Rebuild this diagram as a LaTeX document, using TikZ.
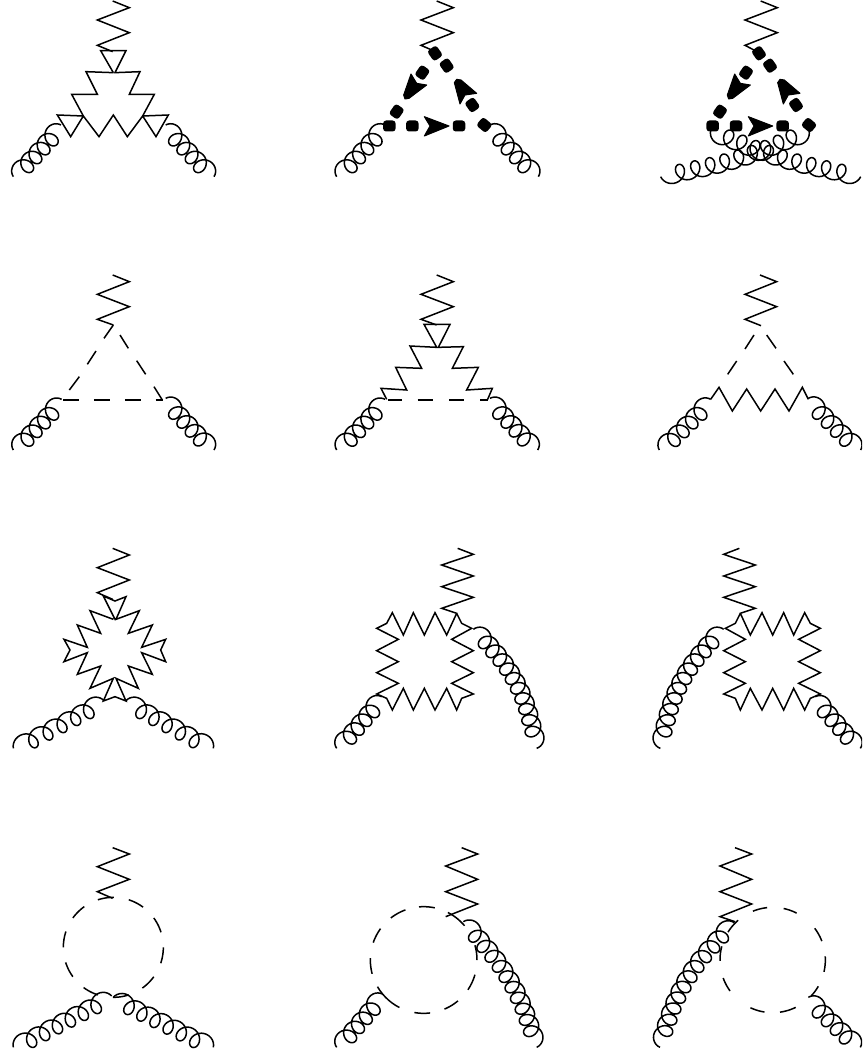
\documentclass[tikz,border=0pt]{standalone}
\tikzset{
  panel/.style 2 args={shift={(#1,#2)},scale=0.33333},
  boson/.style={line width=1.5pt,line join=miter,miter limit=6},
  dashseg/.style={line width=1.5pt,line cap=butt},
  gluonline/.style={line width=1.5pt,line join=round},
  blob/.style={fill=black,inner sep=0pt,minimum width=12.5pt,minimum height=11pt,rounded corners=3pt},
  fermarrow/.style={fill=black,draw=black,line width=1pt,line join=round}
}
\def\gA{26}\def\gB{24}\def\gC{5}
\newcount\gi
\newcount\gn
% P0x,P0y,Cx,Cy,P1x,P1y,N,side
\newcommand{\gluon}[8]{%
  \gn=\fpeval{round(24*(#7))}\relax
  \gi=0
  \edef\gp{(#1,#2)}%
  \loop
    \advance\gi by 1
    \edef\gs{\fpeval{\the\gi/\the\gn}}%
    \edef\gu{\fpeval{1-\gs}}%
    \edef\gtx{\fpeval{\gu*((#3)-(#1))+\gs*((#5)-(#3))}}%
    \edef\gty{\fpeval{\gu*((#4)-(#2))+\gs*((#6)-(#4))}}%
    \edef\gtl{\fpeval{sqrt(\gtx*\gtx+\gty*\gty)}}%
    \edef\gtx{\fpeval{\gtx/\gtl}}%
    \edef\gty{\fpeval{\gty/\gtl}}%
    \edef\gth{\fpeval{360*(#7)*\gs}}%
    \edef\gal{\fpeval{\gB*(1-cosd(\gth)-2*\gs)}}%
    \edef\gnn{\fpeval{(\gC*min(1,8*\gs*\gu)-\gA*sind(\gth))*(#8)}}%
    \edef\gx{\fpeval{round(\gu*\gu*(#1)+2*\gs*\gu*(#3)+\gs*\gs*(#5)+\gtx*\gal-\gty*\gnn,2)}}%
    \edef\gy{\fpeval{round(\gu*\gu*(#2)+2*\gs*\gu*(#4)+\gs*\gs*(#6)+\gty*\gal+\gtx*\gnn,2)}}%
    \edef\gp{\gp--(\gx,\gy)}%
  \ifnum\gi<\gn\repeat
  \edef\gcmd{\noexpand\draw[gluonline] \gp;}\gcmd
}
% straight gluon
\newcommand{\sgluon}[6]{\gluon{#1}{#2}{(#1+#3)/2}{(#2+#4)/2}{#3}{#4}{#5}{#6}}
% dashed arc: cx,cy,r,from,to
\newcommand{\darc}[5]{\draw[dashseg] plot[variable=\t,domain=#4:#5,samples=8,smooth] ({#1+#3*cos(\t)},{#2+#3*sin(\t)});}
\newcommand{\boxpanel}{%
  \draw[boson] (398,25)--(445,43)--(350,75)--(445,108)--(350,140)--(445,172)--(350,205)--(395,220)
    --(365,285)--(330,218)--(298,285)--(265,218)--(235,285)--(202,218)--(185,250)--(155,265)
    --(220,298)--(155,332)--(220,365)--(155,398)--(220,430)--(155,462)--(185,475)--(202,510)
    --(235,445)--(265,510)--(298,445)--(330,510)--(365,445)--(395,510)--(410,475)--(445,462)
    --(380,430)--(445,398)--(380,365)--(445,332)--(380,298)--(440,265)--(410,250)--(395,220);
  \sgluon{170}{470}{35}{625}{4.5}{-1}
  \gluon{445}{268}{616}{404}{635}{625}{10.5}{1}
}
\begin{document}
\begin{tikzpicture}[x=1pt,y=-1pt]
\useasboundingbox (0,0) rectangle (862,1057);
\clip (0,0) rectangle (862,1057);
% ---- row 1, panel 1
\begin{scope}[panel={0}{0}]
\draw[boson] (338,3)--(388,23)--(292,60)--(388,98)--(292,136)--(338,155);
\draw[boson] (340,218)--(302,152)--(378,152)--(345,218)--(420,215)--(388,283)--(463,283)--(428,348)--(505,345)--(468,410)--(428,348)--(382,410)--(340,345)--(297,410)--(250,348)--(212,410)--(172,345)--(250,348)--(215,283)--(292,283)--(258,215)--(340,218);
\sgluon{183}{375}{40}{530}{4.5}{-1}
\sgluon{497}{375}{642}{530}{4.5}{1}
\end{scope}
% ---- row 1, panel 2
\begin{scope}[panel={325}{0}]
\draw[boson] (335,3)--(385,23)--(288,60)--(385,98)--(288,136)--(332,155);
\sgluon{180}{375}{35}{530}{4.5}{-1}
\sgluon{495}{375}{640}{530}{4.5}{1}
\foreach \xa/\ya/\ang [count=\i] in {330/160/-55,365/197/-55,292/218/55,215/335/55,442/315/-55,478/375/-40,193/378/0,262/378/0,402/378/0}
  {\node[blob,rotate=\ang] (pa\i) at (\xa,\ya) {};}
\fill[fermarrow] (372,378)--(298,350)--(315,378)--(298,408)--cycle;
\fill[fermarrow] (258,222)--(275,250)--(305,255)--(252,295)--(240,297)--(236,285)--cycle;
\fill[fermarrow] (388,248)--(395,238)--(408,240)--(455,280)--(420,285)--(405,312)--cycle;
\end{scope}
% ---- row 1, panel 3
\begin{scope}[panel={640}{0}]
\gluon{507}{392}{315}{499}{62}{530}{9.5}{1}
\gluon{212}{392}{410}{499}{662}{530}{9.5}{-1}
\draw[boson] (362,3)--(412,23)--(315,60)--(412,98)--(315,136)--(357,158);
\foreach \xa/\ya/\ang [count=\i] in {357/160/-55,390/197/-55,318/218/55,240/335/55,468/315/-55,507/375/-40,218/378/0,288/378/0,428/378/0}
  {\node[blob,rotate=\ang] (pb\i) at (\xa,\ya) {};}
\fill[fermarrow] (398,378)--(325,350)--(342,378)--(325,408)--cycle;
\fill[fermarrow] (284,222)--(301,250)--(331,255)--(278,295)--(266,297)--(262,285)--cycle;
\fill[fermarrow] (413,248)--(420,238)--(433,240)--(480,280)--(445,285)--(430,312)--cycle;
\end{scope}
% ---- row 2, panel 1
\begin{scope}[panel={0}{270}]
\draw[boson] (338,15)--(388,35)--(292,73)--(388,110)--(292,148)--(340,165);
\foreach \xa/\ya/\xb/\yb in {340/165/312/205,288/243/262/283,238/320/208/360,360/195/385/235,410/272/437/313,462/350/487/390,190/390/238/390,282/390/330/390,375/390/423/390,467/390/490/390}
  {\draw[dashseg] (\xa,\ya)--(\xb,\yb);}
\sgluon{185}{388}{40}{540}{4.5}{-1}
\sgluon{497}{385}{642}{540}{4.5}{1}
\end{scope}
% ---- row 2, panel 2
\begin{scope}[panel={325}{270}]
\draw[boson] (335,15)--(385,35)--(288,73)--(385,110)--(288,148)--(335,165);
\draw[boson] (185,388)--(168,355)--(245,360)--(212,292)--(290,295)--(255,228)--(335,232)--(297,163)--(375,163)--(340,232)--(415,230)--(382,295)--(460,292)--(425,360)--(502,355)--(488,388);
\foreach \xa/\xb in {188/232,278/325,372/418,465/490}
  {\draw[dashseg] (\xa,390)--(\xb,390);}
\sgluon{180}{388}{35}{540}{4.5}{-1}
\sgluon{495}{385}{638}{540}{4.5}{1}
\end{scope}
% ---- row 2, panel 3
\begin{scope}[panel={640}{270}]
\draw[boson] (360,15)--(410,35)--(315,73)--(410,110)--(315,148)--(363,167);
\foreach \xa/\ya/\xb/\yb in {342/195/315/237,290/273/263/313,380/195/408/235,432/273/460/313}
  {\draw[dashseg] (\xa,\ya)--(\xb,\yb);}
\draw[boson] (212,388)--(237,352)--(277,423)--(320,357)--(362,423)--(405,357)--(447,423)--(487,352)--(505,388);
\sgluon{212}{388}{58}{540}{4.5}{-1}
\sgluon{505}{385}{662}{540}{4.5}{1}
\end{scope}
% ---- row 3, panel 1
\begin{scope}[panel={0}{540}]
\draw[boson] (338,25)--(388,45)--(292,83)--(388,120)--(292,158)--(338,178);
\draw[boson] (340,238)--(270,212)--(302,280)--(232,255)--(262,322)--(192,298)--(210,330)--(192,365)--(262,338)--(232,403)--(302,378)--(270,445)--(340,415)--(310,483)--(345,470)--(378,483)--(348,415)--(415,445)--(385,378)--(457,403)--(425,338)--(497,365)--(482,330)--(497,298)--(425,322)--(457,255)--(385,280)--(418,212)--(348,238)--(378,170)--(345,183)--(310,168)--(345,238);
\gluon{312}{482}{185}{545}{40}{625}{5.5}{-1}
\gluon{378}{482}{505}{545}{640}{625}{5.5}{1}
\end{scope}
% ---- row 3, panel 2
\begin{scope}[panel={325}{540}]
\boxpanel
\end{scope}
% ---- row 3, panel 3 (mirror image of panel 2)
\begin{scope}[shift={(872,540)},xscale=-0.33333,yscale=0.33333]
\boxpanel
\end{scope}
% ---- row 4, panel 1
\begin{scope}[panel={0}{840}]
\draw[boson] (338,23)--(388,42)--(292,80)--(388,118)--(292,155)--(338,175);
\foreach \sa/\sb in {0/18.5,36/54.5,72/90.5,108/126.5,144/162.5,180/198.5,216/234.5,252/270.5,288/306.5,324/342.5}
  {\darc{340}{322}{150}{\sa}{\sb}}
\gluon{335}{468}{185}{540}{40}{622}{6.5}{-1}
\gluon{340}{472}{490}{540}{640}{622}{6.5}{1}
\end{scope}
% ---- row 4, panel 2
\begin{scope}[panel={325}{840}]
\draw[boson] (410,23)--(458,42)--(362,78)--(458,118)--(362,155)--(458,192)--(362,230);
\foreach \sa/\sb in {-16/0,16/34,50/67,83/100,117/150,165/182,199/216,232/250,265/282,297/320}
  {\darc{296}{360}{160}{\sa}{\sb}}
\sgluon{172}{462}{35}{622}{4.5}{-1}
\gluon{415}{245}{595}{407}{635}{622}{10.5}{1}
\end{scope}
% ---- row 4, panel 3
\begin{scope}[panel={640}{840}]
\draw[boson] (285,23)--(335,42)--(240,78)--(335,118)--(240,155)--(335,192)--(240,230)--(285,245);
\foreach \sa/\sb in {-4/13,30/43,64/82,99/115,144/160,179/195,212/229,248/264,282/297,323/339}
  {\darc{398}{360}{158}{\sa}{\sb}}
\gluon{283}{248}{95}{405}{60}{622}{10.5}{-1}
\sgluon{505}{472}{661}{622}{4.5}{1}
\end{scope}
\end{tikzpicture}
\end{document}
